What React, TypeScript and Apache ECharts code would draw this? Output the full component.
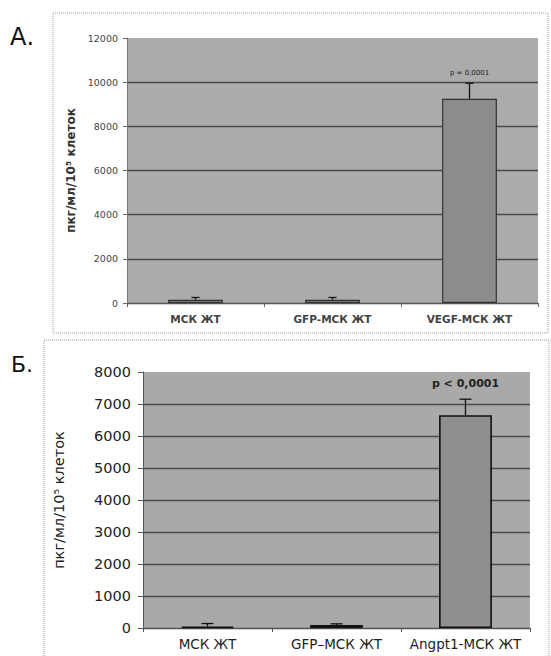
import React, { useEffect, useRef } from "react";
import * as echarts from "echarts";

// Panel А
const categoriesA = ["МСК ЖТ", "GFP-МСК ЖТ", "VEGF-МСК ЖТ"];
const valuesA = [150, 150, 9250];
const errorsA = [100, 100, 700];
const pLabelsA = ["", "", "p = 0,0001"];
const ticksA = { min: 0, max: 12000, interval: 2000 };

// Panel Б
const categoriesB = ["МСК ЖТ", "GFP–МСК ЖТ", "Angpt1-МСК ЖТ"];
const valuesB = [40, 90, 6650];
const errorsB = [100, 40, 500];
const pLabelsB = ["", "", "p < 0,0001"];
const ticksB = { min: 0, max: 8000, interval: 1000 };

const yName = "пкг/мл/10⁵ клеток";
const FONT = "DejaVu Sans, Arial, sans-serif";

function errorSeries(
  gridIdx: number,
  vals: number[],
  errs: number[],
  labels: string[],
  cap: number,
  labelGap: number,
  labelFont: string
) {
  return {
    type: "custom",
    xAxisIndex: gridIdx,
    yAxisIndex: gridIdx,
    z: 10,
    data: vals.map((v, i) => [i, v, errs[i]]),
    encode: { x: 0, y: 1 },
    renderItem: (params: any, api: any) => {
      const x = api.value(0);
      const v = api.value(1);
      const e = api.value(2);
      const p0 = api.coord([x, v]);
      const p1 = api.coord([x, v + e]);
      const children: any[] = [
        {
          type: "line",
          shape: { x1: p0[0], y1: p0[1], x2: p1[0], y2: p1[1] },
          style: { stroke: "#111", lineWidth: 1.3 },
        },
        {
          type: "line",
          shape: { x1: p1[0] - cap / 2, y1: p1[1], x2: p1[0] + cap / 2, y2: p1[1] },
          style: { stroke: "#111", lineWidth: 1.3 },
        },
      ];
      const lbl = labels[params.dataIndex];
      if (lbl) {
        children.push({
          type: "text",
          x: p1[0],
          y: p1[1] - labelGap,
          style: {
            text: lbl,
            font: labelFont,
            fill: "#222",
            align: "center",
            verticalAlign: "middle",
          },
        });
      }
      return { type: "group", children };
    },
  };
}

const plain = (v: number) => String(v);

export default function App() {
  const ref = useRef<HTMLDivElement>(null);
  useEffect(() => {
    document.body.style.margin = "0";
    const chart = echarts.init(ref.current!, null, { renderer: "svg" });
    const option: any = {
      animation: false,
      backgroundColor: "#ffffff",
      graphic: [
        {
          type: "rect",
          shape: { x: 53, y: 13, width: 495, height: 320 },
          style: { fill: "none", stroke: "#9a9a9a", lineWidth: 1, lineDash: [1, 1] },
        },
        {
          type: "rect",
          shape: { x: 44, y: 340, width: 505, height: 330 },
          style: { fill: "none", stroke: "#9a9a9a", lineWidth: 1, lineDash: [1, 1] },
        },
        {
          type: "text",
          x: 10,
          y: 37,
          style: { text: "А.", font: `24px ${FONT}`, fill: "#111", verticalAlign: "middle" },
        },
        {
          type: "text",
          x: 11,
          y: 364,
          style: { text: "Б.", font: `22px ${FONT}`, fill: "#111", verticalAlign: "middle" },
        },
      ],
      grid: [
        {
          left: 127,
          top: 38,
          width: 411,
          height: 265,
          show: true,
          backgroundColor: "#ababab",
          borderWidth: 0,
        },
        {
          left: 143,
          top: 372,
          width: 387,
          height: 256,
          show: true,
          backgroundColor: "#a9a9a9",
          borderWidth: 0,
        },
      ],
      xAxis: [
        {
          type: "category",
          gridIndex: 0,
          data: categoriesA,
          axisLine: { lineStyle: { color: "#555", width: 1.2 } },
          axisTick: { show: true, alignWithLabel: false, length: 4, lineStyle: { color: "#666" } },
          axisLabel: { interval: 0, fontFamily: FONT, fontSize: 10.5, fontWeight: "bold", color: "#444", margin: 10 },
        },
        {
          type: "category",
          gridIndex: 1,
          data: categoriesB,
          axisLine: { lineStyle: { color: "#555", width: 1.2 } },
          axisTick: { show: true, alignWithLabel: false, length: 4, lineStyle: { color: "#555" } },
          axisLabel: { interval: 0, hideOverlap: false, fontFamily: FONT, fontSize: 13.5, color: "#222", margin: 9 },
        },
      ],
      yAxis: [
        {
          type: "value",
          gridIndex: 0,
          min: ticksA.min,
          max: ticksA.max,
          interval: ticksA.interval,
          name: yName,
          nameLocation: "middle",
          nameGap: 46,
          nameTextStyle: { fontFamily: FONT, fontSize: 12, fontWeight: "bold", color: "#333" },
          axisLine: { show: true, lineStyle: { color: "#777" } },
          axisTick: { show: true, length: 4, lineStyle: { color: "#666" } },
          axisLabel: { formatter: plain, fontFamily: FONT, fontSize: 9.5, color: "#444", margin: 9 },
          splitLine: { show: true, showMaxLine: false, lineStyle: { color: "#4a4a4a", width: 1.3 } },
        },
        {
          type: "value",
          gridIndex: 1,
          min: ticksB.min,
          max: ticksB.max,
          interval: ticksB.interval,
          name: yName,
          nameLocation: "middle",
          nameGap: 77,
          nameTextStyle: { fontFamily: FONT, fontSize: 14.5, color: "#222" },
          axisLine: { show: true, lineStyle: { color: "#555" } },
          axisTick: { show: true, length: 5, lineStyle: { color: "#555" } },
          axisLabel: { formatter: plain, fontFamily: FONT, fontSize: 14.5, color: "#222", margin: 12 },
          splitLine: { show: true, showMaxLine: false, lineStyle: { color: "#4a4a4a", width: 1.3 } },
        },
      ],
      series: [
        {
          type: "bar",
          xAxisIndex: 0,
          yAxisIndex: 0,
          data: valuesA,
          barWidth: "40%",
          itemStyle: { color: "#8c8c8c", borderColor: "#333", borderWidth: 1.2 },
        },
        {
          type: "bar",
          xAxisIndex: 1,
          yAxisIndex: 1,
          data: valuesB,
          barWidth: "41%",
          itemStyle: { color: "#8f8f8f", borderColor: "#111", borderWidth: 1.6 },
        },
        errorSeries(0, valuesA, errorsA, pLabelsA, 8, 10, `7px ${FONT}`),
        errorSeries(1, valuesB, errorsB, pLabelsB, 12, 16, `bold 11px ${FONT}`),
      ],
    };
    chart.setOption(option);
    return () => chart.dispose();
  }, []);
  return (
    <div
      ref={ref}
      style={{ position: "absolute", left: 0, top: 0, width: 551, height: 656 }}
    />
  );
}
